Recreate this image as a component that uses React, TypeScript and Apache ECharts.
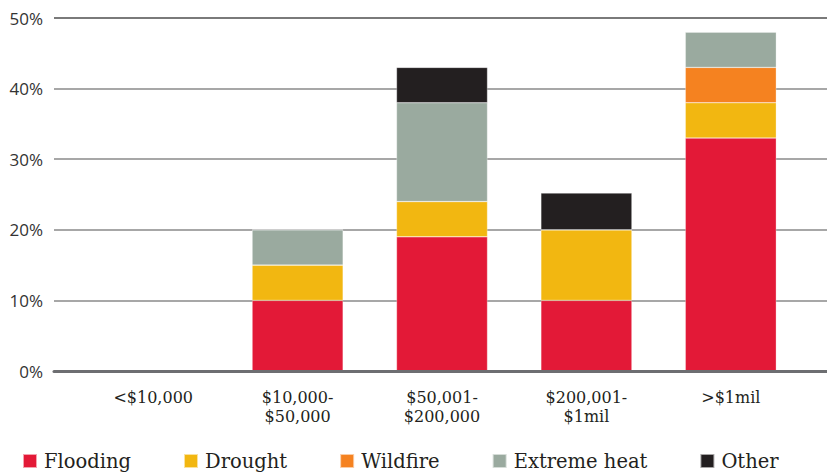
import React, { useEffect, useRef } from "react";
import * as echarts from "echarts";

const categories = ["<$10,000", "$10,000-\n$50,000", "$50,001-\n$200,000", "$200,001-\n$1mil", ">$1mil"];
const flooding = [0, 10, 19, 10, 33];
const drought = [0, 5, 5, 10, 5];
const wildfire = [0, 0, 0, 0, 5];
const extremeHeat = [0, 5, 14, 0, 5];
const other = [0, 0, 5, 5.2, 0];
const seriesNames = ["Flooding", "Drought", "Wildfire", "Extreme heat", "Other"];
const seriesColors = ["#e31937", "#f2b711", "#f58220", "#9aaa9f", "#231f20"];
const yTicks = [0, 10, 20, 30, 40, 50];

export default function App() {
  const ref = useRef<HTMLDivElement>(null);
  useEffect(() => {
    if (!ref.current) return;
    const chart = echarts.init(ref.current, null, { renderer: "svg" });
    const values = [flooding, drought, wildfire, extremeHeat, other];
    const serif = "'DejaVu Serif', serif";
    chart.setOption({
      animation: false,
      grid: [
        { left: 54, right: 0, top: 18, bottom: 104 },
        { left: 81, right: 24, top: 18, bottom: 104 },
      ],
      legend: {
        left: 17,
        bottom: -1,
        itemWidth: 14,
        itemHeight: 14,
        itemGap: 52,
        icon: "rect",
        textStyle: { fontFamily: serif, fontSize: 19.5, color: "#231f20", padding: [0, 0, 0, 2] },
        data: seriesNames,
      },
      xAxis: [
        {
          type: "value",
          gridIndex: 0,
          min: 0,
          max: 1,
          z: 5,
          axisLine: { show: true, onZero: true, lineStyle: { color: "#6d6e71", width: 3 } },
          axisTick: { show: false },
          axisLabel: { show: false },
          splitLine: { show: false },
        },
        {
          type: "category",
          gridIndex: 1,
          data: categories,
          axisLine: { show: false },
          axisTick: { show: false },
          axisLabel: {
            margin: 17,
            fontFamily: serif,
            fontSize: 16,
            lineHeight: 19,
            color: "#231f20",
            interval: 0,
          },
        },
      ],
      yAxis: [
        {
          type: "value",
          gridIndex: 0,
          min: 0,
          max: 50,
          interval: 10,
          axisLine: { show: false },
          axisTick: { show: false },
          axisLabel: {
            margin: 11,
            formatter: (v: number) => (yTicks.includes(v) ? v + "%" : ""),
            fontFamily: "'Open Sans', sans-serif",
            fontSize: 17,
            color: "#333333",
          },
          splitLine: {
            show: true,
            lineStyle: { color: ["#6d6e71", "#a7a7a7", "#a7a7a7", "#a7a7a7", "#a7a7a7", "#7a7a7a"], width: 2 },
          },
        },
        {
          type: "value",
          gridIndex: 1,
          min: 0,
          max: 50,
          interval: 10,
          show: false,
          splitLine: { show: false },
        },
      ],
      series: seriesNames.map((name, i) => ({
        name,
        type: "bar",
        stack: "total",
        xAxisIndex: 1,
        yAxisIndex: 1,
        barWidth: 91,
        data: values[i],
        itemStyle: { color: seriesColors[i], borderColor: "rgba(255,255,255,0.6)", borderWidth: 0.5 },
      })),
    });
    return () => chart.dispose();
  }, []);
  return <div ref={ref} style={{ width: 827, height: 475, position: "absolute", left: 0, top: 0 }} />;
}
